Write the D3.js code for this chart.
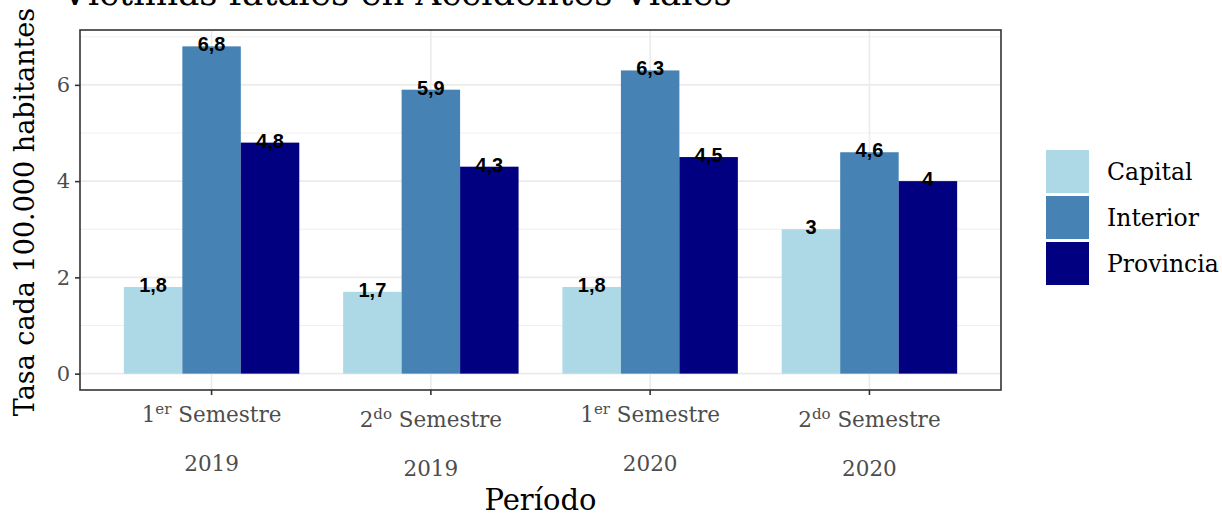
<!DOCTYPE html>
<html lang="es">
<head>
<meta charset="UTF-8">
<title>Víctimas fatales en Accidentes Viales</title>
<script src="https://d3js.org/d3.v7.min.js"></script>
<style>
  body { margin: 0; background: #fff; }
  .serif { font-family: "DejaVu Serif", serif; }
  .grid line { stroke: #ebebeb; }
  .lbl { font-family: "Liberation Sans", Arial, sans-serif; font-weight: bold; font-size: 20px; }
</style>
</head>
<body>
<svg id="chart" width="1222" height="516"></svg>
<script>
// data
var periodos = ["1", "2", "1", "2"];
var sufijos = ["er", "do", "er", "do"];
var anios = ["2019", "2019", "2020", "2020"];
var series = ["Capital", "Interior", "Provincia"];
var capital = [1.8, 1.7, 1.8, 3.0];
var interior = [6.8, 5.9, 6.3, 4.6];
var provincia = [4.8, 4.3, 4.5, 4.0];
var yTicks = [0, 2, 4, 6];
var yMinor = [1, 3, 5, 7];
var colores = ["#add8e6", "#4682b4", "#000080"];

var svg = d3.select("#chart");
var pLeft = 80, pRight = 1001, pTop = 30, pBottom = 390;

var cats = periodos.map(function (p, i) { return i; });
// ggplot discrete expansion: 0.6 units each side
var paso = (pRight - pLeft) / 4.2;
var x = d3.scaleBand().domain(cats).range([pLeft + 0.1 * paso, pRight - 0.1 * paso]);
var xs = d3.scaleBand().domain(series).range([0, x.bandwidth() * 0.8]);
var y = d3.scaleLinear().domain([-0.34, 7.14]).range([pBottom, pTop]);

// grid
var grid = svg.append("g").attr("class", "grid");
grid.selectAll(".mn").data(yMinor).enter().append("line")
  .attr("x1", pLeft).attr("x2", pRight)
  .attr("y1", function (d) { return y(d); }).attr("y2", function (d) { return y(d); })
  .attr("stroke-width", 0.8);
grid.selectAll(".mj").data(yTicks).enter().append("line")
  .attr("x1", pLeft).attr("x2", pRight)
  .attr("y1", function (d) { return y(d); }).attr("y2", function (d) { return y(d); })
  .attr("stroke-width", 1.6);
grid.selectAll(".vx").data(cats).enter().append("line")
  .attr("y1", pTop).attr("y2", pBottom)
  .attr("x1", function (d) { return x(d) + x.bandwidth() / 2; })
  .attr("x2", function (d) { return x(d) + x.bandwidth() / 2; })
  .attr("stroke-width", 1.6);

// bars
var filas = cats.map(function (i) {
  return [capital[i], interior[i], provincia[i]].map(function (v, k) {
    return { cat: i, serie: series[k], valor: v, color: colores[k] };
  });
});
var grupos = svg.selectAll(".grupo").data(filas).enter().append("g")
  .attr("transform", function (d, i) { return "translate(" + (x(i) + x.bandwidth() * 0.1) + ",0)"; });
grupos.selectAll("rect").data(function (d) { return d; }).enter().append("rect")
  .attr("x", function (d) { return xs(d.serie); })
  .attr("width", xs.bandwidth())
  .attr("y", function (d) { return y(d.valor); })
  .attr("height", function (d) { return y(0) - y(d.valor); })
  .attr("fill", function (d) { return d.color; });
grupos.selectAll("text").data(function (d) { return d; }).enter().append("text")
  .attr("class", "lbl")
  .attr("text-anchor", "middle")
  .attr("x", function (d) { return xs(d.serie) + xs.bandwidth() / 2; })
  .attr("y", function (d) { return y(d.valor) + 5; })
  .text(function (d) { return String(d.valor).replace(".", ","); });

// panel border
svg.append("rect").attr("x", pLeft).attr("y", pTop).attr("width", pRight - pLeft).attr("height", pBottom - pTop)
  .attr("fill", "none").attr("stroke", "#333").attr("stroke-width", 1.6);

// y axis
var yAxis = svg.append("g").attr("transform", "translate(" + pLeft + ",0)")
  .call(d3.axisLeft(y).tickValues(yTicks).tickSize(5).tickPadding(5));
yAxis.select(".domain").remove();
yAxis.selectAll(".tick line").attr("stroke", "#333").attr("stroke-width", 1.6);
yAxis.selectAll(".tick text").attr("class", "serif").attr("font-size", 21).attr("fill", "#4d4d4d");

// x axis
var xAxis = svg.append("g").attr("transform", "translate(0," + pBottom + ")")
  .call(d3.axisBottom(x).tickSize(5).tickFormat(""));
xAxis.select(".domain").remove();
xAxis.selectAll(".tick line").attr("stroke", "#333").attr("stroke-width", 1.6);
xAxis.selectAll(".tick").each(function (d) {
  var off = sufijos[d] === "do" ? 5 : 0;
  var t = d3.select(this).append("text").attr("class", "serif").attr("fill", "#4d4d4d")
    .attr("font-size", 21.5).attr("text-anchor", "middle").attr("y", 32 + off);
  t.append("tspan").text(periodos[d]);
  t.append("tspan").attr("font-size", 15).attr("dy", -8).text(sufijos[d]);
  t.append("tspan").attr("dy", 8).text(" Semestre");
  d3.select(this).append("text").attr("class", "serif").attr("fill", "#4d4d4d")
    .attr("font-size", 21.5).attr("text-anchor", "middle").attr("y", 81 + off)
    .text(anios[d]);
});

// axis titles
svg.append("text").attr("class", "serif").attr("font-size", 29).attr("text-anchor", "middle")
  .attr("x", (pLeft + pRight) / 2).attr("y", 510).text("Período");
svg.append("text").attr("class", "serif").attr("font-size", 27).attr("text-anchor", "middle")
  .attr("transform", "translate(34,212) rotate(-90)").text("Tasa cada 100.000 habitantes");

// title (cut at the top)
svg.append("text").attr("class", "serif").attr("font-size", 35.5)
  .attr("x", 62).attr("y", 5).text("Víctimas fatales en Accidentes Viales");

// legend
var leg = svg.append("g").attr("transform", "translate(1046,150)");
var items = leg.selectAll("g").data(series).enter().append("g")
  .attr("transform", function (d, i) { return "translate(0," + i * 46 + ")"; });
items.append("rect").attr("width", 43).attr("height", 43)
  .attr("fill", function (d, i) { return colores[i]; });
items.append("text").attr("class", "serif").attr("font-size", 23.5)
  .attr("x", 61).attr("y", 30).text(function (d) { return d; });
</script>
</body>
</html>
